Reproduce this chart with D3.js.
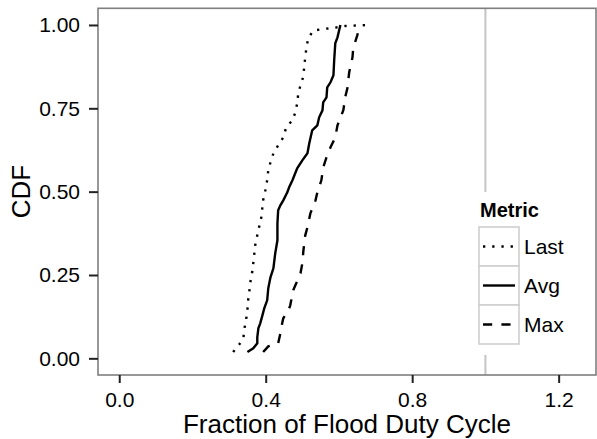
<!DOCTYPE html>
<html lang="en">
<head>
    <meta charset="UTF-8">
    <title>CDF of Flood Duty Cycle</title>
    <script src="https://d3js.org/d3.v7.min.js"></script>
    <style>
        body, html {
            margin: 0;
            padding: 0;
            background: #fff;
        }
        svg {
            display: block;
            font-family: 'Liberation Sans', Arial, sans-serif;
        }
    </style>
</head>
<body>
    <svg width="597" height="439"></svg>

    <script>
        // values: [fraction, cdf]
        const lastPts = [
            [0.311, 0.019], [0.328, 0.042], [0.339, 0.060], [0.342, 0.090], [0.347, 0.120],
            [0.350, 0.144], [0.352, 0.174], [0.355, 0.198], [0.358, 0.228], [0.363, 0.258],
            [0.366, 0.285], [0.369, 0.315], [0.372, 0.345], [0.377, 0.369], [0.383, 0.399],
            [0.388, 0.423], [0.393, 0.474], [0.399, 0.504], [0.404, 0.534], [0.407, 0.564],
            [0.413, 0.588], [0.421, 0.615], [0.434, 0.639], [0.448, 0.663], [0.456, 0.693],
            [0.473, 0.714], [0.481, 0.738], [0.486, 0.765], [0.489, 0.795], [0.495, 0.819],
            [0.503, 0.846], [0.505, 0.873], [0.508, 0.903], [0.511, 0.930], [0.516, 0.960],
            [0.530, 0.983], [0.557, 0.988], [0.585, 0.991], [0.617, 0.997], [0.658, 0.999],
            [0.686, 1.000]
        ];
        const avgPts = [
            [0.350, 0.019], [0.366, 0.030], [0.377, 0.045], [0.377, 0.063], [0.380, 0.090],
            [0.385, 0.105], [0.391, 0.129], [0.396, 0.150], [0.404, 0.174], [0.407, 0.210],
            [0.413, 0.243], [0.421, 0.270], [0.426, 0.315], [0.432, 0.354], [0.432, 0.405],
            [0.434, 0.444], [0.440, 0.459], [0.448, 0.474], [0.459, 0.498], [0.464, 0.513],
            [0.473, 0.534], [0.486, 0.570], [0.500, 0.594], [0.514, 0.615], [0.519, 0.645],
            [0.527, 0.684], [0.541, 0.699], [0.546, 0.723], [0.555, 0.744], [0.557, 0.768],
            [0.566, 0.783], [0.568, 0.813], [0.577, 0.828], [0.585, 0.849], [0.587, 0.894],
            [0.590, 0.945], [0.596, 0.963], [0.604, 1.000]
        ];
        const maxPts = [
            [0.393, 0.019], [0.407, 0.036], [0.434, 0.045], [0.440, 0.075], [0.445, 0.105],
            [0.448, 0.120], [0.462, 0.144], [0.467, 0.159], [0.475, 0.204], [0.481, 0.219],
            [0.495, 0.255], [0.500, 0.285], [0.503, 0.324], [0.508, 0.369], [0.514, 0.393],
            [0.522, 0.435], [0.536, 0.474], [0.541, 0.498], [0.552, 0.534], [0.557, 0.573],
            [0.566, 0.603], [0.577, 0.633], [0.590, 0.663], [0.596, 0.699], [0.612, 0.744],
            [0.617, 0.783], [0.623, 0.810], [0.628, 0.858], [0.637, 0.903], [0.639, 0.930],
            [0.650, 0.969], [0.656, 0.993], [0.660, 1.000]
        ];
        const metrics = ['Last', 'Avg', 'Max'];
        const xTicks = [0.0, 0.4, 0.8, 1.2];
        const yTicks = [0.00, 0.25, 0.50, 0.75, 1.00];
        const refLine = 1.0;

        const series = [
            { name: 'Last', pts: lastPts, dash: '2.3,6.9' },
            { name: 'Avg', pts: avgPts, dash: null },
            { name: 'Max', pts: maxPts, dash: '9.2,9.2' }
        ];

        const svg = d3.select('svg');
        const panel = { left: 98, right: 596, top: 8.3, bottom: 375 };

        const x = d3.scaleLinear().domain([-0.058, 1.302]).range([panel.left, panel.right]);
        const y = d3.scaleLinear().domain([-0.05, 1.05]).range([panel.bottom, panel.top]);

        // vertical reference line at 1.0
        svg.append('line')
            .attr('x1', x(refLine)).attr('x2', x(refLine))
            .attr('y1', panel.top).attr('y2', panel.bottom)
            .attr('stroke', '#c4c4c4')
            .attr('stroke-width', 2);

        const line = d3.line().x(d => x(d[0])).y(d => y(d[1]));

        svg.selectAll('path.cdf')
            .data(series)
            .join('path')
            .attr('class', 'cdf')
            .attr('d', d => line(d.pts))
            .attr('fill', 'none')
            .attr('stroke', '#000')
            .attr('stroke-width', 2.4)
            .attr('stroke-dasharray', d => d.dash);

        // panel border
        svg.append('rect')
            .attr('x', panel.left).attr('y', panel.top)
            .attr('width', panel.right - panel.left)
            .attr('height', panel.bottom - panel.top)
            .attr('fill', 'none')
            .attr('stroke', '#7f7f7f')
            .attr('stroke-width', 1.6);

        // axes
        const xAxis = svg.append('g')
            .attr('transform', `translate(0,${panel.bottom})`)
            .call(d3.axisBottom(x).tickValues(xTicks).tickFormat(d3.format('.1f'))
                .tickSize(8).tickPadding(9).tickSizeOuter(0));
        const yAxis = svg.append('g')
            .attr('transform', `translate(${panel.left},0)`)
            .call(d3.axisLeft(y).tickValues(yTicks).tickFormat(d3.format('.2f'))
                .tickSize(9).tickPadding(9).tickSizeOuter(0));

        [xAxis, yAxis].forEach(g => {
            g.select('.domain').remove();
            g.selectAll('.tick line').attr('stroke', '#222').attr('stroke-width', 2);
            g.selectAll('.tick text')
                .attr('fill', '#000')
                .style('font-size', '21px')
                .style('font-family', "'Liberation Sans', Arial, sans-serif");
        });

        // axis titles
        svg.append('text')
            .attr('x', (panel.left + panel.right) / 2)
            .attr('y', 433)
            .attr('text-anchor', 'middle')
            .style('font-size', '26px')
            .text('Fraction of Flood Duty Cycle');

        svg.append('text')
            .attr('transform', `translate(30,${(panel.top + panel.bottom) / 2}) rotate(-90)`)
            .attr('text-anchor', 'middle')
            .style('font-size', '26px')
            .text('CDF');

        // legend
        const legend = svg.append('g');
        legend.append('rect')
            .attr('x', 468).attr('y', 192)
            .attr('width', 110).attr('height', 163)
            .attr('fill', '#fff');
        legend.append('text')
            .attr('x', 480).attr('y', 217)
            .style('font-size', '20px')
            .style('font-weight', 'bold')
            .text('Metric');

        const keyH = 39;
        const keys = legend.selectAll('g.key')
            .data(series)
            .join('g')
            .attr('class', 'key')
            .attr('transform', (d, i) => `translate(479,${227 + i * keyH})`);
        keys.append('rect')
            .attr('width', 40).attr('height', keyH)
            .attr('fill', '#fff')
            .attr('stroke', '#cfcfcf')
            .attr('stroke-width', 1.6);
        keys.append('line')
            .attr('x1', 4).attr('x2', 36)
            .attr('y1', keyH / 2).attr('y2', keyH / 2)
            .attr('stroke', '#000')
            .attr('stroke-width', 2.4)
            .attr('stroke-dasharray', d => d.dash);
        keys.append('text')
            .attr('x', 45).attr('y', keyH / 2)
            .attr('dy', '0.36em')
            .style('font-size', '21px')
            .text((d, i) => metrics[i]);
    </script>
</body>
</html>
